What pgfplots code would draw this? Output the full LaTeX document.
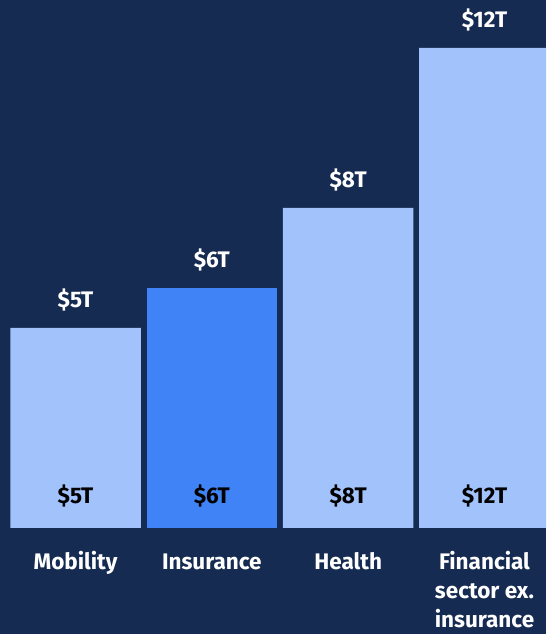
\documentclass[border=0pt]{standalone}
\usepackage{pgfplots}
\pgfplotsset{compat=1.18}
\usepackage{fontspec}
\setmainfont{Fira Sans}
\definecolor{navy}{RGB}{22,43,82}
\definecolor{lightbar}{RGB}{161,194,250}
\definecolor{brightbar}{RGB}{64,131,247}
\begin{document}
\begin{tikzpicture}
\fill[navy] (0,0) rectangle (546pt,634pt);
\useasboundingbox (0,0) rectangle (546pt,634pt);
\begin{axis}[
  at={(0,0)}, anchor=south west,
  scale only axis, width=546pt, height=634pt,
  xmin=-0.5539, xmax=3.4512, ymin=-2.65, ymax=13.2,
  hide axis,
  /pgf/number format/assume math mode=true,
  ybar, bar width=130.5pt, bar shift=0pt,
  nodes near coords={\$\pgfmathprintnumber{\pgfplotspointmeta}T},
  every node near coord/.append style={font=\fontsize{22.5}{26}\selectfont\bfseries, text=white, anchor=center, yshift=28pt},
]
\addplot[fill=lightbar, draw=none] coordinates {(0,5) (2,8) (3,12)};
\addplot[fill=brightbar, draw=none] coordinates {(1,6)};
\end{axis}
\begin{axis}[
  at={(0,0)}, anchor=south west,
  scale only axis, width=546pt, height=634pt,
  xmin=-0.5539, xmax=3.4512, ymin=-2.65, ymax=13.2,
  hide axis, clip=false,
]
\tikzset{lab/.style={font=\fontsize{22.5}{26}\selectfont\bfseries, anchor=base, inner sep=0pt}}
\node[lab, text=black] at (axis cs:0,0.6) {\$5T};
\node[lab, text=black] at (axis cs:1,0.6) {\$6T};
\node[lab, text=black] at (axis cs:2,0.6) {\$8T};
\node[lab, text=black] at (axis cs:3,0.6) {\$12T};
\node[lab, text=white] at (axis cs:0,-1.03) {Mobility};
\node[lab, text=white] at (axis cs:1,-1.03) {Insurance};
\node[lab, text=white] at (axis cs:2,-1.03) {Health};
\node[lab, text=white] at (axis cs:3,-1.03) {Financial};
\node[lab, text=white] at (axis cs:3,-1.77) {sector ex.};
\node[lab, text=white] at (axis cs:3,-2.5) {insurance};
\end{axis}
\end{tikzpicture}
\end{document}
